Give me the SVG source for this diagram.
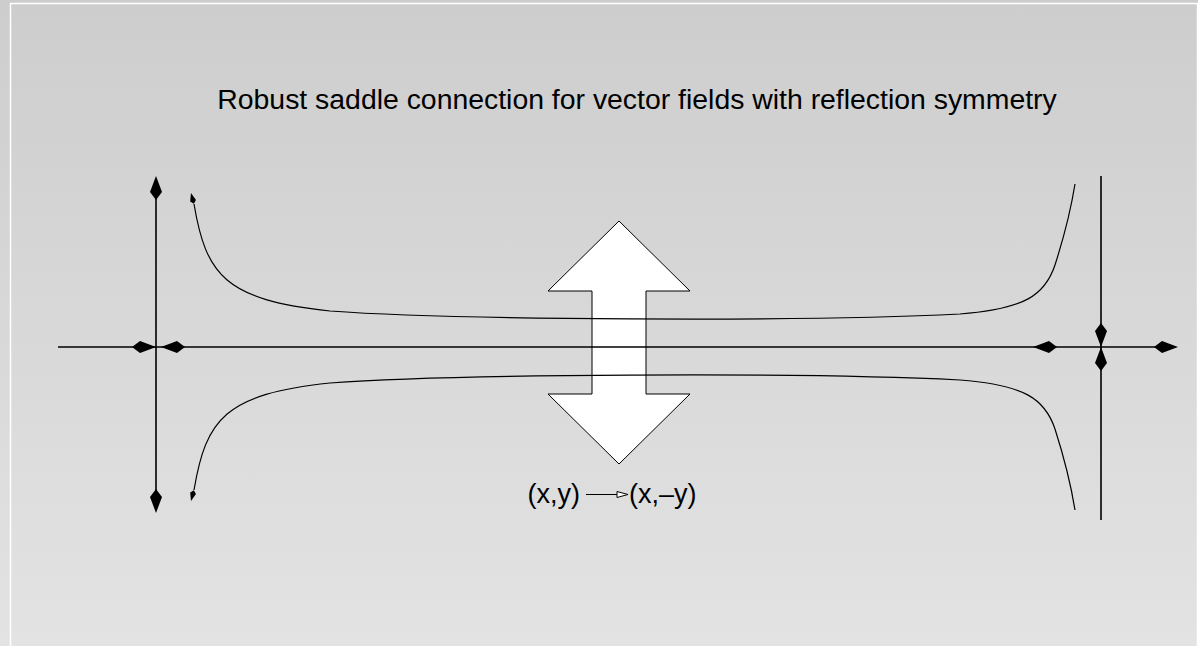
<svg xmlns="http://www.w3.org/2000/svg" width="1198" height="646" viewBox="0 0 1198 646">
<defs>
<linearGradient id="bg" x1="0" y1="0" x2="0" y2="1">
<stop offset="0" stop-color="#cdcdcd"/>
<stop offset="1" stop-color="#e3e3e3"/>
</linearGradient>
<path id="K" d="M0,0 L-16,-6 L-24,0 L-16,6 Z" fill="#000"/>
<path id="S" d="M0,0 L-8,-3 L-11,0 L-8,3 Z" fill="#000"/>
</defs>
<style>
.axis{stroke:#000;stroke-width:1.6;fill:none}
.curve{stroke:#000;stroke-width:1.2;fill:none}
.lbl{font-family:"Liberation Sans",Arial,sans-serif;fill:#000}
</style>
<rect x="0" y="0" width="1198" height="646" fill="url(#bg)"/>
<rect x="10.5" y="3.5" width="1187" height="700" fill="none" stroke="#fff" stroke-width="1.5"/>
<text class="lbl" x="637" y="109" font-size="28.4" text-anchor="middle">Robust saddle connection for vector fields with reflection symmetry</text>
<g id="bigarrow">
<polygon points="619,221 690,291 646,291 646,394 690,394 619,464 548,394 592,394 592,291 548,291" fill="#fff" stroke="#000" stroke-width="1"/>
</g>
<g id="connectors">
<line class="axis" x1="58" y1="347" x2="1175" y2="347"/>
<line class="axis" x1="156" y1="180" x2="156" y2="510"/>
<line class="axis" x1="1101" y1="176" x2="1101" y2="520"/>
<use href="#K" transform="translate(156,176) rotate(-90)"/>
<use href="#K" transform="translate(156,513) rotate(90)"/>
<use href="#K" transform="translate(156,347)"/>
<use href="#K" transform="translate(161,347) rotate(180)"/>
<use href="#K" transform="translate(1101,347) rotate(90)"/>
<use href="#K" transform="translate(1101,347) rotate(-90)"/>
<use href="#K" transform="translate(1033,347) rotate(180)"/>
<use href="#K" transform="translate(1178,347)"/>
<path class="curve" d="M194,204 C206,275 225,300 330,311 C450,320 800,322 960,314 C1025,309 1045,295 1055,265 C1063,240 1070,215 1075,184"/>
<path class="curve" d="M194,490 C206,419 225,394 330,383 C450,374 800,372 960,380 C1025,385 1045,399 1055,429 C1063,454 1070,479 1075,510"/>
<use href="#S" transform="translate(191,193) rotate(-105)"/>
<use href="#S" transform="translate(191,501) rotate(105)"/>
</g>
<g id="label">
<text class="lbl" x="580" y="503" font-size="27" text-anchor="end">(x,y)</text>
<line x1="586" y1="494.5" x2="617" y2="494.5" stroke="#000" stroke-width="1"/>
<polygon points="617,491.5 628,494.5 617,497.5" fill="#fff" stroke="#000" stroke-width="1"/>
<text class="lbl" x="629" y="503" font-size="27">(x,–y)</text>
</g>
</svg>
